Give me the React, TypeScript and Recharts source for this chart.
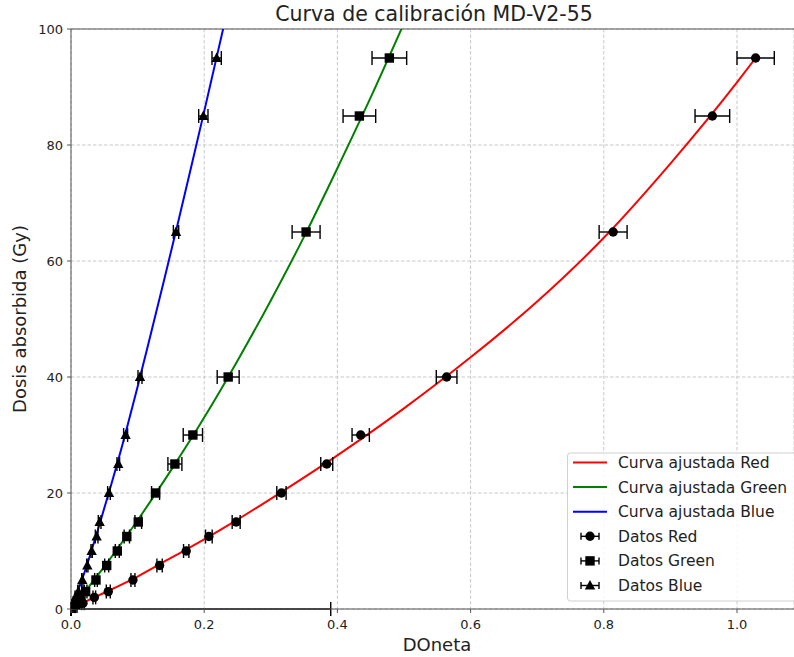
import React from 'react';
import {
  ComposedChart,
  Line,
  Scatter,
  ErrorBar,
  XAxis,
  YAxis,
  CartesianGrid,
  ReferenceLine,
} from 'recharts';

// Dose levels (Gy) and measured net optical density per channel
const doses = [0, 0.5, 1, 2, 3, 5, 7.5, 10, 12.5, 15, 20, 25, 30, 40, 65, 85, 95];

const redX = [0, 0.008, 0.018, 0.035, 0.056, 0.093, 0.133, 0.173, 0.207, 0.248, 0.316, 0.384, 0.435, 0.564, 0.814, 0.963, 1.028];
const redErr = [0.39, 0.001, 0.002, 0.002, 0.003, 0.003, 0.004, 0.004, 0.005, 0.006, 0.007, 0.009, 0.013, 0.0155, 0.021, 0.026, 0.028];

const greenX = [0, 0.004, 0.008, 0.015, 0.022, 0.0375, 0.0536, 0.0695, 0.0838, 0.101, 0.127, 0.156, 0.183, 0.236, 0.353, 0.433, 0.478];
const greenErr = [0, 0.001, 0.001, 0.002, 0.002, 0.002, 0.003, 0.003, 0.004, 0.005, 0.006, 0.0105, 0.0145, 0.0165, 0.021, 0.0245, 0.026];

const blueX = [0, 0.002, 0.004, 0.007, 0.011, 0.017, 0.0245, 0.031, 0.0385, 0.043, 0.057, 0.071, 0.082, 0.1036, 0.1577, 0.1987, 0.2187];
const blueErr = [0, 0.001, 0.001, 0.001, 0.001, 0.001, 0.001, 0.001, 0.002, 0.002, 0.002, 0.002, 0.003, 0.003, 0.004, 0.007, 0.007];

// Fitted curves
const redFitX = [0.02, 0.05, 0.1, 0.15, 0.2, 0.25, 0.3, 0.4, 0.5, 0.6, 0.7, 0.8, 0.9, 1.0, 1.028];
const redFitY = [1.2, 2.8, 5.6, 8.8, 12.0, 15.4, 19.0, 26.5, 34.6, 43.4, 53.0, 64.0, 76.8, 90.8, 95.0];

const greenFitX = [0.015, 0.05, 0.1, 0.15, 0.2, 0.25, 0.3, 0.35, 0.4, 0.45, 0.5];
const greenFitY = [2.1, 7.3, 15.3, 23.9, 33.0, 42.8, 53.2, 64.2, 76.0, 88.2, 101];

const blueFitX = [0.005, 0.02, 0.04, 0.06, 0.08, 0.1, 0.12, 0.14, 0.16, 0.18, 0.2, 0.22, 0.232];
const blueFitY = [1.5, 6.2, 13.5, 21.3, 29.5, 38.3, 47.5, 56.8, 66.3, 76.0, 85.8, 95.8, 101.8];

const xTicks = [0, 0.2, 0.4, 0.6, 0.8, 1.0];
const yTicks = [0, 20, 40, 60, 80, 100];

const legendItems = [
  'Curva ajustada Red',
  'Curva ajustada Green',
  'Curva ajustada Blue',
  'Datos Red',
  'Datos Green',
  'Datos Blue',
];

// error bars are cut at the left edge of the axes (x = 0)
const toPoints = (xs: number[], ys: number[], errs?: number[]) =>
  xs.map((x, i) => {
    const e = errs ? errs[i] : 0;
    return { x, y: ys[i], ex: [Math.min(e, x), e] };
  });

const redData = toPoints(redX, doses, redErr);
const greenData = toPoints(greenX, doses, greenErr);
const blueData = toPoints(blueX, doses, blueErr);
const redFit = toPoints(redFitX, redFitY);
const greenFit = toPoints(greenFitX, greenFitY);
const blueFit = toPoints(blueFitX, blueFitY);

const FONT = '"DejaVu Sans", sans-serif';
const SPINE = '#555';

const marker = (kind: string, cx: number, cy: number) => {
  if (kind === 'circle') return <circle cx={cx} cy={cy} r={4.7} fill="#000" />;
  if (kind === 'square') return <rect x={cx - 4.7} y={cy - 4.7} width={9.4} height={9.4} fill="#000" />;
  return (
    <polygon
      points={`${cx},${cy - 5.6} ${cx - 5.2},${cy + 4} ${cx + 5.2},${cy + 4}`}
      fill="#000"
    />
  );
};

const shapeOf = (kind: string) => (props: any) => marker(kind, props.cx, props.cy);

const Legend = () => {
  const top = 453;
  const rowH = 24.6;
  const colors = ['#ff0000', '#008000', '#0000ff'];
  const kinds = ['circle', 'square', 'triangle'];
  return (
    <g>
      <rect x={567.5} y={top} width={240} height={148} rx={3} fill="rgba(255,255,255,0.85)" stroke="#d0d0d0" />
      {legendItems.map((label, i) => {
        const cy = top + 9.5 + i * rowH;
        return (
          <g key={label}>
            {i < 3 ? (
              <line x1={573} x2={607} y1={cy} y2={cy} stroke={colors[i]} strokeWidth={2} />
            ) : (
              <g>
                <line x1={581} x2={599} y1={cy} y2={cy} stroke="#000" strokeWidth={1.4} />
                <line x1={581} x2={581} y1={cy - 3.5} y2={cy + 3.5} stroke="#000" strokeWidth={1.4} />
                <line x1={599} x2={599} y1={cy - 3.5} y2={cy + 3.5} stroke="#000" strokeWidth={1.4} />
                {marker(kinds[i - 3], 590, cy)}
              </g>
            )}
            <text x={618} y={cy + 5.5} fontSize={15.5} fill="#222" fontFamily={FONT}>
              {label}
            </text>
          </g>
        );
      })}
    </g>
  );
};

const Labels = () => (
  <g>
    <text x={434} y={21} textAnchor="middle" fontSize={20.5} fill="#222" fontFamily={FONT}>
      Curva de calibración MD-V2-55
    </text>
    <text x={437} y={651} textAnchor="middle" fontSize={18} fill="#222" fontFamily={FONT}>
      DOneta
    </text>
    <text
      x={0}
      y={0}
      transform="translate(26,319) rotate(-90)"
      textAnchor="middle"
      fontSize={18}
      fill="#222"
      fontFamily={FONT}
    >
      Dosis absorbida (Gy)
    </text>
  </g>
);

export default function App() {
  return (
    <div style={{ position: 'absolute', left: 0, top: 0, width: 794, height: 657, overflow: 'hidden', fontFamily: FONT, background: '#fff' }}>
      <ComposedChart
        width={794}
        height={657}
        margin={{ top: 29, right: 0, left: 11, bottom: 18 }}
      >
        <CartesianGrid stroke="#c8c8c8" strokeDasharray="3.5 2" />
        <XAxis
          type="number"
          dataKey="x"
          domain={[0, 1.0856]}
          ticks={xTicks}
          tickFormatter={(v: number) => v.toFixed(1)}
          allowDataOverflow
          height={30}
          tickSize={4}
          tickMargin={7}
          tick={{ fontSize: 13, fill: '#222', fontFamily: FONT }}
          axisLine={{ stroke: SPINE }}
          tickLine={{ stroke: SPINE }}
        />
        <YAxis
          type="number"
          dataKey="y"
          domain={[0, 100]}
          ticks={yTicks}
          allowDataOverflow
          width={60}
          tickSize={4}
          tickMargin={4}
          tick={{ fontSize: 13, fill: '#222', fontFamily: FONT }}
          axisLine={{ stroke: SPINE }}
          tickLine={{ stroke: SPINE }}
        />
        <ReferenceLine y={100} stroke={SPINE} />
        <Line data={redFit} dataKey="y" type="monotone" stroke="#ff0000" strokeWidth={2} dot={false} isAnimationActive={false} />
        <Line data={greenFit} dataKey="y" type="monotone" stroke="#008000" strokeWidth={2} dot={false} isAnimationActive={false} />
        <Line data={blueFit} dataKey="y" type="monotone" stroke="#0000ff" strokeWidth={2} dot={false} isAnimationActive={false} />
        <Scatter data={redData} dataKey="y" shape={shapeOf('circle')} isAnimationActive={false}>
          <ErrorBar dataKey="ex" direction="x" width={7} stroke="#000" strokeWidth={1.4} />
        </Scatter>
        <Scatter data={greenData} dataKey="y" shape={shapeOf('square')} isAnimationActive={false}>
          <ErrorBar dataKey="ex" direction="x" width={7} stroke="#000" strokeWidth={1.4} />
        </Scatter>
        <Scatter data={blueData} dataKey="y" shape={shapeOf('triangle')} isAnimationActive={false}>
          <ErrorBar dataKey="ex" direction="x" width={7} stroke="#000" strokeWidth={1.4} />
        </Scatter>
      </ComposedChart>
      <svg
        width={794}
        height={657}
        style={{ position: 'absolute', left: 0, top: 0, pointerEvents: 'none' }}
      >
        <Labels />
        <Legend />
      </svg>
    </div>
  );
}
